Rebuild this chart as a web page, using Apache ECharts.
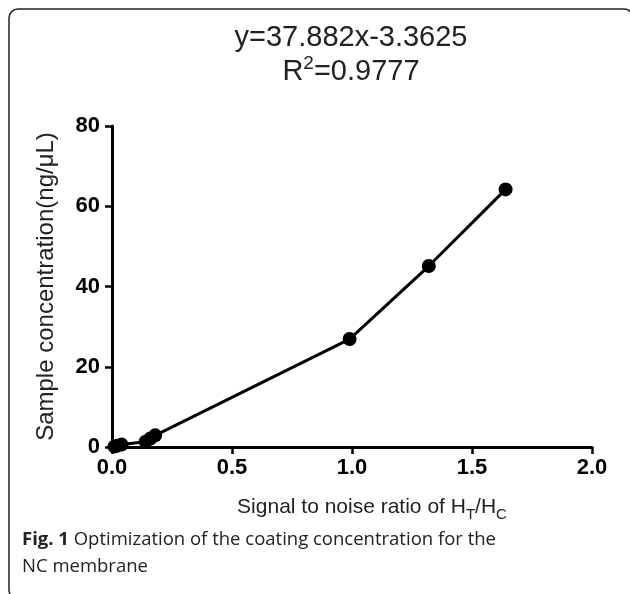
<!DOCTYPE html>
<html>
<head>
<meta charset="utf-8">
<script src="https://cdn.jsdelivr.net/npm/echarts@6.0.0/dist/echarts.min.js"></script>
<style>
    html, body { margin: 0; padding: 0; background: #fff; }
    #chart { width: 630px; height: 594px; }
</style>
</head>
<body>
<div id="chart"></div>
<script>
(function(){
    'use strict';

    // data
    var ratioValues = [0.01, 0.02, 0.04, 0.14, 0.16, 0.18, 0.99, 1.32, 1.64];   // H_T/H_C
    var concValues = [0.1, 0.3, 0.6, 1.3, 2.1, 2.9, 26.9, 45.1, 64.2];          // ng/uL
    var xTicks = [0, 0.5, 1.0, 1.5, 2.0];
    var yTicks = [0, 20, 40, 60, 80];
    var fitText = 'y=37.882x-3.3625';
    var r2Text = '0.9777';

    var points = [];
    for (var i = 0; i < ratioValues.length; i++) {
        points.push([ratioValues[i], concValues[i]]);
    }

    var axisFont = 'Liberation Sans, Arial, sans-serif';
    var captionFont = 'Open Sans, Noto Sans, sans-serif';

    var myChart = echarts.init(document.getElementById('chart'), null, {renderer: 'canvas'});
    var option = {
        backgroundColor: '#fff',
        animation: false,
        grid: {
            left: 112,
            right: 38,
            top: 126,
            bottom: 147
        },
        xAxis: {
            type: 'value',
            min: xTicks[0],
            max: xTicks[xTicks.length - 1],
            interval: 0.5,
            splitLine: {show: false},
            axisLine: {lineStyle: {color: '#000', width: 3}},
            axisTick: {show: true, length: 7, lineStyle: {color: '#000', width: 2.5}},
            axisLabel: {
                margin: 10,
                color: '#000',
                fontFamily: axisFont,
                fontWeight: 'bold',
                fontSize: 22,
                formatter: function (v) { return v.toFixed(1); }
            },
            name: 'Signal to noise ratio of H{sub|T}/H{sub|C}',
            nameLocation: 'middle',
            nameGap: 45,
            nameTextStyle: {
                color: '#222',
                fontFamily: axisFont,
                fontSize: 21,
                lineHeight: 30,
                padding: [0, 0, 0, 40],
                rich: {
                    sub: {fontSize: 15, fontFamily: axisFont, color: '#222', verticalAlign: 'bottom', lineHeight: 30}
                }
            }
        },
        yAxis: {
            type: 'value',
            min: yTicks[0],
            max: yTicks[yTicks.length - 1],
            interval: 20,
            splitLine: {show: false},
            axisLine: {show: true, lineStyle: {color: '#000', width: 3}},
            axisTick: {show: true, length: 7, lineStyle: {color: '#000', width: 2.5}},
            axisLabel: {
                margin: 12,
                color: '#000',
                fontFamily: axisFont,
                fontWeight: 'bold',
                fontSize: 22
            },
            name: 'Sample concentration(ng/μL)',
            nameLocation: 'middle',
            nameGap: 54,
            nameTextStyle: {
                color: '#222',
                fontFamily: axisFont,
                fontSize: 24
            }
        },
        series: [{
            type: 'line',
            data: points,
            symbol: 'circle',
            symbolSize: 14,
            itemStyle: {color: '#000'},
            lineStyle: {color: '#000', width: 3}
        }],
        graphic: [
            // rounded figure frame
            {
                type: 'rect',
                shape: {x: 9, y: 9, width: 624, height: 590, r: 9},
                style: {fill: null, stroke: '#222', lineWidth: 1.5},
                silent: true
            },
            {
                type: 'text',
                x: 351, y: 38,
                style: {
                    text: fitText,
                    fill: '#222',
                    font: '29px ' + axisFont,
                    textAlign: 'center',
                    textVerticalAlign: 'middle'
                }
            },
            {
                type: 'text',
                x: 351, y: 72,
                style: {
                    text: 'R{sup|2}=' + r2Text,
                    fill: '#222',
                    font: '29px ' + axisFont,
                    textAlign: 'center',
                    textVerticalAlign: 'middle',
                    rich: {
                        sup: {fontSize: 19, fontFamily: axisFont, verticalAlign: 'top', lineHeight: 36}
                    }
                }
            },
            {
                type: 'text',
                x: 22, y: 526,
                style: {
                    text: '{b|Fig. 1} Optimization of the coating concentration for the\nNC membrane',
                    fill: '#222',
                    font: '18.5px ' + captionFont,
                    lineHeight: 27,
                    rich: {
                        b: {fontWeight: 'bold', fontSize: 18.5, fontFamily: captionFont, fill: '#222', lineHeight: 27}
                    }
                }
            }
        ]
    };

    myChart.setOption(option);
})();
</script>
</body>
</html>
